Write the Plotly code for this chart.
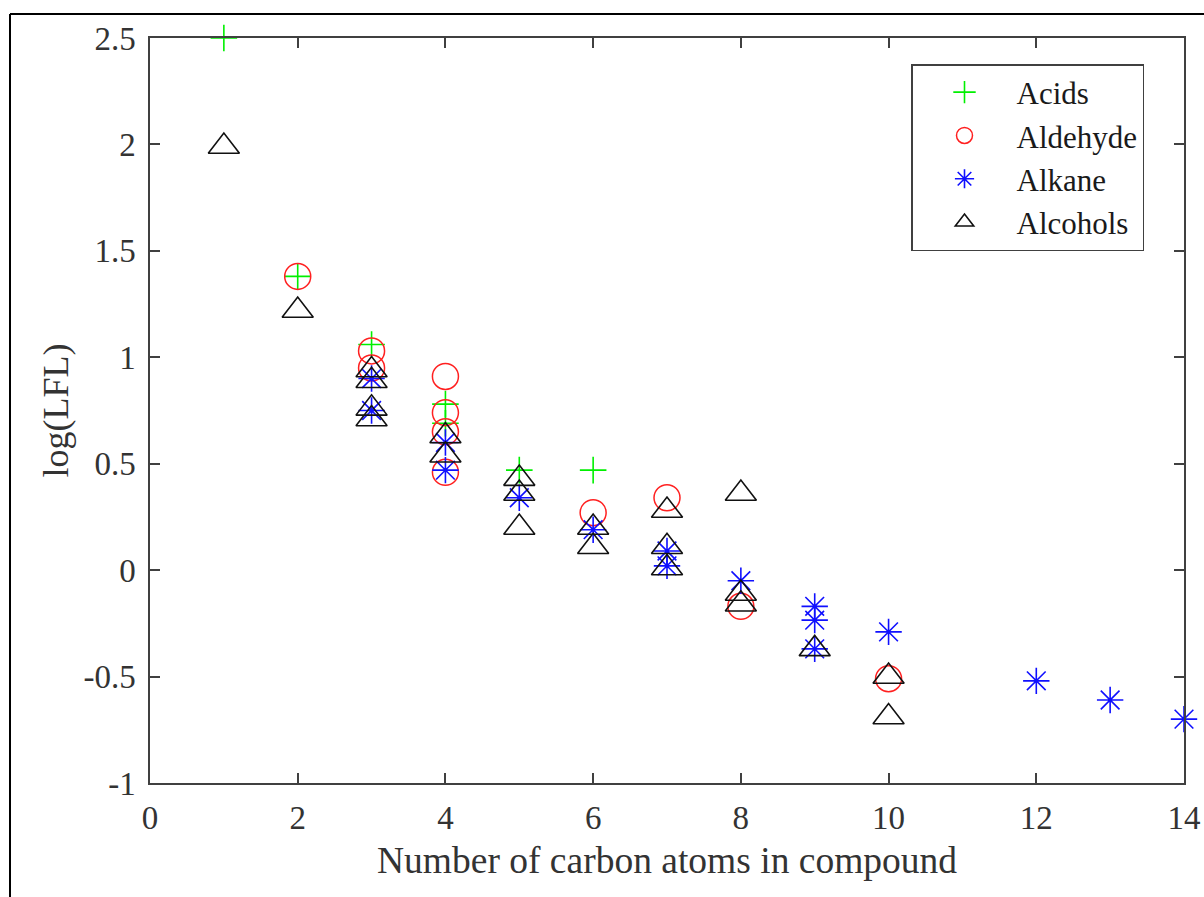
import plotly.graph_objects as go

# Acids (green +)
acids_x = [1, 2, 3, 4, 4, 5, 6]
acids_y = [2.50, 1.38, 1.06, 0.78, 0.69, 0.47, 0.47]

# Aldehyde (red o)
ald_x = [2, 3, 3, 4, 4, 4, 4, 6, 7, 8, 10]
ald_y = [1.38, 1.03, 0.95, 0.91, 0.74, 0.65, 0.46, 0.27, 0.34, -0.17, -0.51]

# Alkane (blue *)
alk_x = [3, 3, 4, 4, 5, 6, 7, 7, 8, 9, 9, 9, 10, 12, 13, 14]
alk_y = [0.90, 0.75, 0.60, 0.47, 0.34, 0.19, 0.09, 0.02, -0.05, -0.17, -0.235, -0.37, -0.29, -0.52, -0.61, -0.70]

# Alcohols (black triangles)
alc_x = [1, 2, 3, 3, 3, 3, 4, 4, 5, 5, 5, 6, 6, 7, 7, 7, 8, 8, 8, 9, 10, 10]
alc_y = [1.99, 1.22, 0.94, 0.89, 0.76, 0.71, 0.63, 0.54, 0.43, 0.36, 0.20, 0.20, 0.11, 0.28, 0.11, 0.01, 0.36, -0.11, -0.16, -0.37, -0.50, -0.69]

x_ticks = [0, 2, 4, 6, 8, 10, 12, 14]
y_ticks = [-1, -0.5, 0, 0.5, 1, 1.5, 2, 2.5]
y_tick_text = ["-1", "-0.5", "0", "0.5", "1", "1.5", "2", "2.5"]

FONT = "Liberation Serif, Times New Roman, serif"
AXC = "#404040"
GREEN = "#00f000"
RED = "#ff2020"
BLUE = "#1010ff"
BLACK = "#111111"

fig = go.Figure()
fig.add_trace(go.Scatter(x=acids_x, y=acids_y, mode="markers", name="Acids",
                         marker=dict(symbol="cross-thin-open", size=19, color=GREEN,
                                     line=dict(color=GREEN, width=1.6)),
                         cliponaxis=False))
fig.add_trace(go.Scatter(x=ald_x, y=ald_y, mode="markers", name="Aldehyde",
                         marker=dict(symbol="circle-open", size=26, color=RED,
                                     line=dict(color=RED, width=1.5)),
                         cliponaxis=False))
fig.add_trace(go.Scatter(x=alk_x, y=alk_y, mode="markers", name="Alkane",
                         marker=dict(symbol="asterisk-open", size=22, color=BLUE,
                                     line=dict(color=BLUE, width=1.6)),
                         cliponaxis=False))
fig.add_trace(go.Scatter(x=alc_x, y=alc_y, mode="markers", name="Alcohols",
                         marker=dict(symbol="triangle-up-open", size=27, color=BLACK,
                                     line=dict(color=BLACK, width=1.6)),
                         cliponaxis=False))

L, R, T, B = 150, 1184, 38, 783
W, H = 1204, 897
pw, ph = R - L, B - T

def px_x(p):
    return (p - L) / pw

def px_y(p):
    return (B - p) / ph

fig.update_layout(
    width=W, height=H,
    margin=dict(l=L, r=W - R, t=T, b=H - B, autoexpand=False),
    paper_bgcolor="white", plot_bgcolor="white",
    font=dict(family=FONT, size=33, color="#262626"),
    showlegend=True,
    legend=dict(x=px_x(911), y=px_y(64), xanchor="left", yanchor="top",
                bordercolor=AXC, borderwidth=1.5, bgcolor="white",
                font=dict(family=FONT, size=31, color="#1a1a1a"),
                itemwidth=94, tracegroupgap=0),
    xaxis=dict(range=[0, 14], tickvals=x_ticks, ticks="inside", ticklen=10,
               tickcolor=AXC, tickwidth=1.5, automargin=False,
               showline=True, linecolor=AXC, linewidth=1.5, mirror="allticks",
               showgrid=False, zeroline=False,
               tickfont=dict(family=FONT, size=33, color="#333333"),
               ticklabelstandoff=5),
    yaxis=dict(range=[-1, 2.5], tickvals=y_ticks, ticktext=y_tick_text,
               ticks="inside", ticklen=10, tickcolor=AXC, tickwidth=1.5,
               automargin=False,
               showline=True, linecolor=AXC, linewidth=1.5, mirror="allticks",
               showgrid=False, zeroline=False,
               tickfont=dict(family=FONT, size=33, color="#333333"),
               ticklabelstandoff=6,
               title=dict(text="log(LFL)",
                          font=dict(family=FONT, size=36, color="#333333"),
                          standoff=4)),
)

# x-axis title placed as an annotation to match the reference position
fig.add_annotation(text="Number of carbon atoms in compound",
                   xref="paper", yref="paper", x=0.5, y=px_y(861),
                   xanchor="center", yanchor="middle", showarrow=False,
                   font=dict(family=FONT, size=37.5, color="#333333"))

# outer image frame (left and top edges visible in the reference)
fig.add_shape(type="line", xref="paper", yref="paper",
              x0=px_x(10), x1=px_x(10), y0=px_y(910), y1=px_y(14),
              line=dict(color="black", width=2))
fig.add_shape(type="line", xref="paper", yref="paper",
              x0=px_x(10), x1=px_x(1215), y0=px_y(14), y1=px_y(14),
              line=dict(color="black", width=2))

fig.write_html("out.html")
